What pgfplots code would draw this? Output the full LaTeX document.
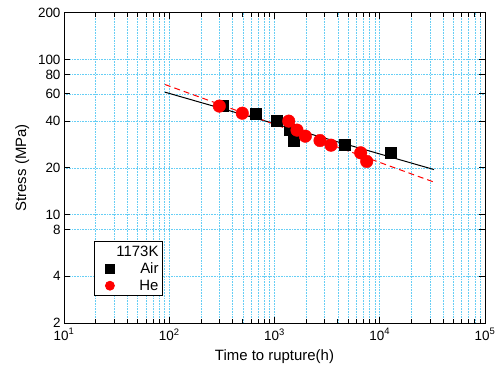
\documentclass[border=0pt]{standalone}
\usepackage{pgfplots}
\pgfplotsset{compat=1.18}
\usepackage{fontspec}
\setmainfont{Liberation Sans}
\begin{document}
\begin{tikzpicture}
\path[use as bounding box] (-64bp,-51bp) rectangle (431bp,323bp);
\begin{axis}[
  scale only axis,
  width=421bp, height=310.3bp,
  xmode=log, ymode=log,
  xmin=10, xmax=100000, ymin=2, ymax=200,
  xtick={10,100,1000,10000,100000},
  xticklabels={10\textsuperscript{1},10\textsuperscript{2},10\textsuperscript{3},10\textsuperscript{4},10\textsuperscript{5}},
  ytick={2,4,8,10,20,40,60,80,100,200},
  yticklabels={2,4,8,10,20,40,60,80,100,200},
  minor xtick={20,30,40,50,60,70,80,90,200,300,400,500,600,700,800,900,2000,3000,4000,5000,6000,7000,8000,9000,20000,30000,40000,50000,60000,70000,80000,90000},
  minor ytick={},
  xmajorgrids, xminorgrids, ymajorgrids,
  grid style={cyan!60!white, dash pattern=on 1pt off 0.6pt, line width=0.6pt},
  major grid style={cyan!60!white, dash pattern=on 1pt off 0.6pt, line width=0.6pt},
  minor grid style={cyan!60!white, dash pattern=on 1pt off 0.6pt, line width=0.6pt},
  tick style={black, line width=0.8pt},
  major tick length=6bp, minor tick length=4bp,
  axis line style={line width=0.9pt},
  tick align=inside,
  ticklabel style={font=\fontsize{13.5}{15}\selectfont},
  xticklabel style={yshift=-2bp},
  xlabel={Time to rupture(h)},
  ylabel={Stress (MPa)},
  label style={font=\fontsize{15}{17}\selectfont},
  xlabel style={yshift=-2bp},
  ylabel style={yshift=2bp},
  legend style={at={(rel axis cs:0.0713,0.087)}, anchor=south west, draw=black, line width=0.8pt, font=\fontsize{15}{17}\selectfont, inner sep=2bp, row sep=1bp},
  legend image post style={mark size=4.5bp, xshift=5bp},
  legend cell align=right,
]
\addlegendimage{empty legend}
\addlegendentry{1173K}
\addplot[only marks, mark=square*, mark size=5.5bp, black] coordinates {
(322,50) (657,45) (1057,40) (1383,35) (1510,30) (4606,28) (12700,25)
};
\addlegendentry{Air}
\addplot[only marks, mark=*, mark size=6.3bp, red, fill=red] coordinates {
(299,50) (494,45) (1365,40) (1636,35) (1963,32) (2706,30) (3441,28) (6590,25) (7515,22)
};
\addlegendentry{He}
\addplot[black, line width=1pt, forget plot] coordinates {(91,61.5) (32740,19.5)};
\addplot[red, line width=1pt, dash pattern=on 6pt off 4pt, forget plot] coordinates {(91,68.9) (31850,16.3)};
\end{axis}
\end{tikzpicture}
\end{document}
